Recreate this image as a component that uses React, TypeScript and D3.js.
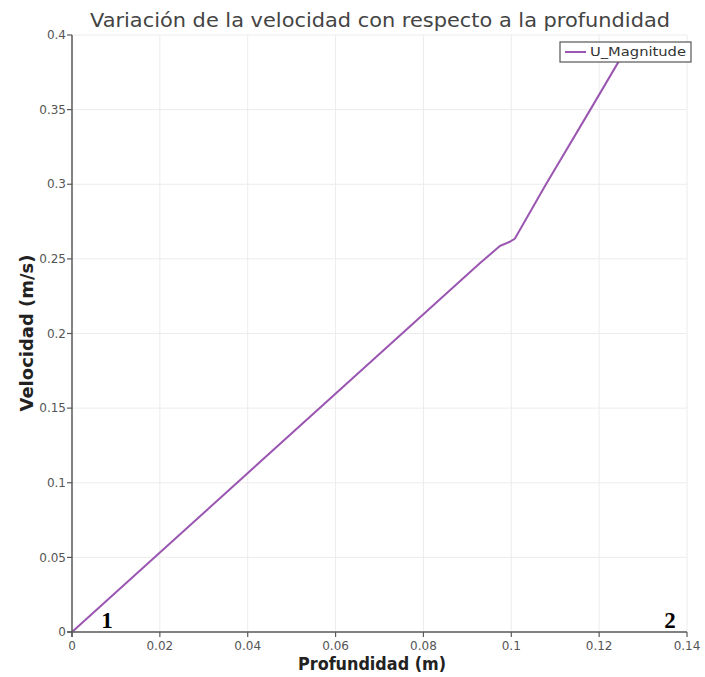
import React from "react";
import * as d3 from "d3";

// Depth (m) and velocity magnitude (m/s) along the sampled line
const depth = [0, 0.0929, 0.0974, 0.0997, 0.1008, 0.1079, 0.118, 0.1246, 0.1264];
const velocity = [0, 0.2472, 0.2586, 0.2615, 0.2635, 0.3, 0.35, 0.383, 0.392];

const xTicks = [0, 0.02, 0.04, 0.06, 0.08, 0.1, 0.12, 0.14];
const yTicks = [0, 0.05, 0.1, 0.15, 0.2, 0.25, 0.3, 0.35, 0.4];

const seriesName = "U_Magnitude";
const title = "Variación de la velocidad con respecto a la profundidad";
const xLabel = "Profundidad (m)";
const yLabel = "Velocidad (m/s)";

const W = 705;
const H = 677;
const left = 72;
const right = 687;
const top = 35;
const bottom = 632;

const font = "'DejaVu Sans', 'Open Sans', sans-serif";
const lineColor = "#9a56b0";
const axisColor = "#5a5a5a";

export default function App() {
  const x = d3.scaleLinear().domain([0, 0.14]).range([left, right]);
  const y = d3.scaleLinear().domain([0, 0.4]).range([bottom, top]);

  const pts = depth.map((d, i) => [d, velocity[i]] as [number, number]);
  const path = d3
    .line<[number, number]>()
    .x((d) => x(d[0]))
    .y((d) => y(d[1]))(pts) as string;

  return (
    <svg
      width={W}
      height={H}
      style={{ position: "absolute", left: 0, top: 0, background: "#fff" }}
    >
      <rect x={0} y={0} width={W} height={H} fill="#fff" />
      {/* grid */}
      {xTicks.map((t) => (
        <line key={"gx" + t} x1={x(t)} x2={x(t)} y1={top} y2={bottom} stroke="#ececec" strokeWidth={1} />
      ))}
      {yTicks.map((t) => (
        <line key={"gy" + t} x1={left} x2={right} y1={y(t)} y2={y(t)} stroke="#ececec" strokeWidth={1} />
      ))}

      {/* data */}
      <path d={path} fill="none" stroke={lineColor} strokeWidth={2} strokeLinejoin="round" />

      {/* axes */}
      <line x1={left} x2={left} y1={top} y2={bottom + 5} stroke={axisColor} strokeWidth={1.5} />
      <line x1={left - 5} x2={right} y1={bottom} y2={bottom} stroke={axisColor} strokeWidth={1.5} />
      {yTicks.map((t) => (
        <g key={"ty" + t}>
          <line x1={left - 5} x2={left} y1={y(t)} y2={y(t)} stroke={axisColor} strokeWidth={1.2} />
          <text
            x={left - 6}
            y={y(t)}
            dy="0.35em"
            textAnchor="end"
            fontFamily={font}
            fontSize={12}
            fill="#555"
          >
            {String(t)}
          </text>
        </g>
      ))}
      {xTicks.map((t) => (
        <g key={"tx" + t}>
          <line x1={x(t)} x2={x(t)} y1={bottom} y2={bottom + 5} stroke={axisColor} strokeWidth={1.2} />
          <text
            x={x(t)}
            y={bottom + 18}
            textAnchor="middle"
            fontFamily={font}
            fontSize={12}
            fill="#555"
          >
            {String(t)}
          </text>
        </g>
      ))}

      {/* title and axis labels */}
      <text
        x={380}
        y={27}
        textAnchor="middle"
        fontFamily={font}
        fontSize={19}
        fill="#444"
        textLength={580}
        lengthAdjust="spacingAndGlyphs"
      >
        {title}
      </text>
      <text
        x={372}
        y={670}
        textAnchor="middle"
        fontFamily={font}
        fontSize={17}
        fontWeight="bold"
        fill="#222"
        textLength={148}
        lengthAdjust="spacingAndGlyphs"
      >
        {xLabel}
      </text>
      <text
        transform={`translate(33,333) rotate(-90)`}
        textAnchor="middle"
        fontFamily={font}
        fontSize={17}
        fontWeight="bold"
        fill="#222"
        textLength={157}
        lengthAdjust="spacingAndGlyphs"
      >
        {yLabel}
      </text>

      {/* legend */}
      <rect x={560} y={42} width={131} height={20} fill="#fff" stroke="#555" strokeWidth={1.2} />
      <line x1={565} x2={586} y1={52} y2={52} stroke={lineColor} strokeWidth={2} />
      <text
        x={590}
        y={52}
        dy="0.35em"
        fontFamily={font}
        fontSize={11.5}
        fill="#333"
        textLength={96}
        lengthAdjust="spacingAndGlyphs"
      >
        {seriesName}
      </text>

      {/* point markers */}
      <text x={107} y={628} textAnchor="middle" fontFamily="'Liberation Serif', serif" fontWeight="bold" fontSize={23} fill="#000">
        1
      </text>
      <text x={670} y={628} textAnchor="middle" fontFamily="'Liberation Serif', serif" fontWeight="bold" fontSize={23} fill="#000">
        2
      </text>
    </svg>
  );
}
